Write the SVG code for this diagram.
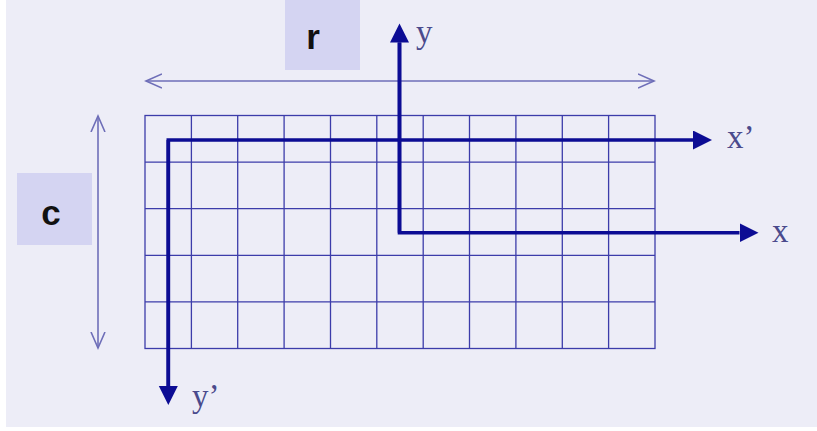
<svg xmlns="http://www.w3.org/2000/svg" width="817" height="431" viewBox="0 0 817 431">
  <style>
    .grid { stroke: #3c3caa; stroke-width: 1.3; fill: none; }
    .dim { stroke: #6e6eb8; stroke-width: 1.6; fill: none; }
    .axis { stroke: #0c0c94; stroke-width: 3.6; fill: none; }
    .box { fill: #d4d4f2; }
    .boxlabel { font-family: "Liberation Sans", Arial, sans-serif; font-size: 35px; font-weight: bold; fill: #111111; text-anchor: middle; }
    .axlabel { font-family: "Liberation Serif", "Times New Roman", serif; font-size: 33px; fill: #4a4a8c; }
  </style>
  <defs>
    <marker id="solid" markerUnits="userSpaceOnUse" markerWidth="20" markerHeight="20" refX="0" refY="9.5" orient="auto" viewBox="0 0 20 20">
      <path d="M0,0 L19,9.5 L0,19 Z" fill="#0c0c94"/>
    </marker>
    <marker id="open" markerUnits="userSpaceOnUse" markerWidth="20" markerHeight="20" refX="16" refY="8" orient="auto-start-reverse" viewBox="0 0 20 20">
      <path d="M0,1 L16,8 L0,15" fill="none" stroke="#6e6eb8" stroke-width="1.6"/>
    </marker>
  </defs>

  <rect x="0" y="0" width="817" height="431" fill="#ffffff"/>
  <rect x="6" y="0" width="811" height="427" fill="#ededf7"/>

  <g id="grid">
    <rect class="grid" x="145" y="115.5" width="510" height="233"/>
    <path class="grid" d="M145,162.1 H655 M145,208.7 H655 M145,255.3 H655 M145,301.9 H655
      M191.4,115.5 V348.5 M237.7,115.5 V348.5 M284.1,115.5 V348.5 M330.5,115.5 V348.5 M376.8,115.5 V348.5
      M423.2,115.5 V348.5 M469.5,115.5 V348.5 M515.9,115.5 V348.5 M562.3,115.5 V348.5 M608.6,115.5 V348.5"/>
  </g>

  <g id="label-r">
    <rect class="box" x="285" y="0" width="75" height="70"/>
    <text class="boxlabel" x="313" y="49">r</text>
  </g>
  <g id="label-c">
    <rect class="box" x="17" y="173" width="75" height="72"/>
    <text class="boxlabel" x="51" y="225">c</text>
  </g>

  <g id="connectors">
    <line class="dim" x1="146" y1="81" x2="654" y2="81" marker-start="url(#open)" marker-end="url(#open)"/>
    <line class="dim" x1="98" y1="116" x2="98" y2="348" marker-start="url(#open)" marker-end="url(#open)"/>
    <path class="axis" d="M168.3,386 V140 H693" marker-end="url(#solid)"/>
    <path class="axis" d="M168.3,140 V386" marker-end="url(#solid)"/>
    <path class="axis" d="M399.5,42.5 V232.7 H739.5" marker-end="url(#solid)"/>
    <path class="axis" d="M399.5,232.7 V42.5" marker-end="url(#solid)"/>
  </g>

  <g id="axis-labels">
    <text class="axlabel" x="416" y="43">y</text>
    <text class="axlabel" x="727" y="148">x’</text>
    <text class="axlabel" x="772" y="242">x</text>
    <text class="axlabel" x="192" y="407">y’</text>
  </g>
</svg>
